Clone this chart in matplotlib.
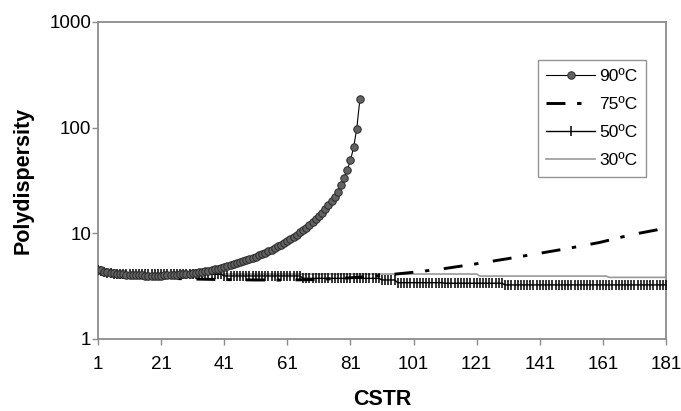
import numpy as np
import matplotlib
matplotlib.use('Agg')
import matplotlib.pyplot as plt

plt.rcParams['font.family'] = ['Liberation Sans', 'DejaVu Sans']

# 90 C: one point per reactor up to the blow-up
cstr_90 = list(range(1, 85))
pd_90 = [4.5, 4.45, 4.35, 4.3, 4.25, 4.2, 4.15, 4.12, 4.1, 4.07,
         4.05, 4.03, 4.01, 4.0, 3.99, 3.98, 3.97, 3.97, 3.97, 3.97,
         3.98, 3.99, 4.0, 4.02, 4.04, 4.06, 4.08, 4.1, 4.13, 4.16,
         4.2, 4.24, 4.28, 4.33, 4.38, 4.44, 4.5, 4.57, 4.64, 4.72,
         4.8, 4.89, 4.98, 5.08, 5.19, 5.3, 5.42, 5.55, 5.69, 5.84,
         6.0, 6.17, 6.35, 6.55, 6.76, 6.99, 7.24, 7.51, 7.8, 8.12,
         8.46, 8.84, 9.25, 9.7, 10.2, 10.75, 11.35, 12.0, 12.75, 13.6,
         14.55, 15.6, 16.9, 18.4, 20.2, 22.3, 24.8, 28.5, 33.5, 40.0,
         49.0, 65.0, 98.0, 187.0]

# 75 C
cstr_75 = [1, 3, 6, 10, 15, 20, 30, 40, 50, 60, 70, 80, 90, 100,
           110, 120, 130, 140, 150, 160, 170, 181]
pd_75 = [4.5, 4.3, 4.1, 3.95, 3.85, 3.78, 3.7, 3.65, 3.62, 3.61, 3.65,
         3.78, 3.97, 4.25, 4.6, 5.1, 5.7, 6.4, 7.2, 8.2, 9.7, 11.2]

# 50 C: stepwise values, (value, number of reactors)
pd_50_levels = [4.5, 4.4, 4.3, 4.2, 4.1, 3.95, 3.75, 3.62, 3.41, 3.37, 3.25]
pd_50_counts = [1, 1, 1, 2, 35, 25, 25, 5, 15, 19, 52]
pd_50 = np.repeat(pd_50_levels, pd_50_counts)
cstr_50 = np.arange(1, len(pd_50) + 1)

# 30 C
cstr_30 = [1, 2, 3, 5, 8, 12, 121, 122, 162, 163, 181]
pd_30 = [4.5, 4.4, 4.3, 4.2, 4.15, 4.12, 4.12, 3.94, 3.94, 3.83, 3.83]

fig = plt.figure(figsize=(6.81, 4.11), dpi=100)
ax = fig.add_axes([0.1439, 0.1752, 0.9780 - 0.1439, 0.9465 - 0.1752])

ax.plot(cstr_30, pd_30, '-', color='#9a9a9a', lw=1.2, label='30ºC', zorder=2)
ax.plot(cstr_50, pd_50, '-', color='black', lw=1.0, marker='|', ms=7,
        mew=1.1, label='50ºC', zorder=3)
ax.plot(cstr_75, pd_75, color='black', lw=2.1, dashes=(6.5, 4, 1.5, 5),
        label='75ºC', zorder=4)
ax.plot(cstr_90, pd_90, '-', color='black', lw=0.8, marker='o', ms=5.4,
        mfc='#626262', mec='#2a2a2a', mew=0.7, label='90ºC', zorder=5)

ax.set_yscale('log')
ax.set_ylim(1, 1000)
ax.set_xlim(1, 181)
ax.set_xticks(np.arange(1, 182, 20))
ax.set_yticks([1, 10, 100, 1000])
ax.set_yticklabels(['1', '10', '100', '1000'])
ax.yaxis.set_minor_locator(matplotlib.ticker.NullLocator())

for s in ax.spines.values():
    s.set_color('#8c8c8c')
    s.set_linewidth(1.3)
ax.tick_params(axis='both', which='major', direction='out', length=4,
               width=1.0, color='#8c8c8c', labelsize=13.5)
ax.tick_params(axis='x', pad=8)
ax.tick_params(axis='y', pad=1)

ax.set_xlabel('CSTR', fontsize=15.5, fontweight='bold', labelpad=12)
ax.set_ylabel('Polydispersity', fontsize=15.5, fontweight='bold', labelpad=11)

h, l = ax.get_legend_handles_labels()
leg = ax.legend(h[::-1], l[::-1], loc='upper right',
                bbox_to_anchor=(0.965, 0.880), borderaxespad=0,
                fontsize=12.5, frameon=True, fancybox=False,
                edgecolor='#7a7a7a', handlelength=2.8, labelspacing=0.75,
                borderpad=0.5, handletextpad=0.25)
leg.get_frame().set_linewidth(1.0)

fig.savefig('out.png', dpi=100)
